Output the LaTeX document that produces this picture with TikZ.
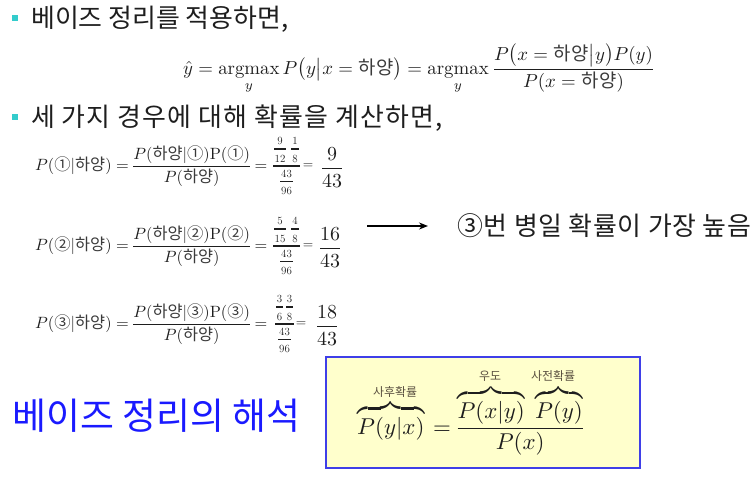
\documentclass[tikz,border=0pt]{standalone}
\usepackage{amsmath}
\usepackage{graphicx}
\usepackage{fontspec}
\usetikzlibrary{arrows.meta}
\newfontfamily\kr{Noto Sans CJK KR}
\newfontfamily\krm[LetterSpace=4]{Noto Sans CJK KR}
\newfontfamily\krtwo[LetterSpace=4.5]{Noto Sans CJK KR}
\newfontfamily\krthree[LetterSpace=2.5]{Noto Sans CJK KR}
\definecolor{bullet}{HTML}{33CCCC}
\definecolor{txt}{HTML}{1E1E1E}
\definecolor{titleblue}{HTML}{1A1AFF}
\definecolor{boxblue}{HTML}{3F3FE8}
\definecolor{boxfill}{HTML}{FFFFCC}
\definecolor{lbl}{HTML}{5A5040}
\definecolor{kmath}{HTML}{3A3A3A}
\newcommand{\hk}[1]{\text{\color{kmath}\krm #1}}
\newcommand{\hkz}[1]{\text{\color{kmath}\kr #1}}
\newcommand{\mth}[2]{\scalebox{#1}{$\displaystyle #2$}}
\newcommand{\lhs}[1]{\resizebox{232bp}{!}{\thickmuskip=2.5mu\nulldelimiterspace=0pt$\displaystyle P(\hkz{#1}|\hkz{하양})\;=\;\frac{P(\hkz{하양}|\hkz{#1})\mathrm{P}(\hkz{#1})}{P(\hkz{하양})}\;=$}}
% complex fraction drawn directly: #1 prefix, #2 x0, #3 axis, #4 W, #5 w1, #6 w2, #7 n1, #8 d1, #9 n2
\newcommand{\cfdraw}[9]{%
  \draw[cfbar] ({#2},{#3}) -- ({#2+#4},{#3});
  \draw[cfbar] ({#2+1},{#3-17}) -- ({#2+1+#5},{#3-17});
  \draw[cfbar] ({#2+#4-1-#6},{#3-17}) -- ({#2+#4-1},{#3-17});
  \node[cfd] (#1n1) at ({#2+1+#5/2},{#3-25}) {#7};
  \node[cfd] (#1d1) at ({#2+1+#5/2},{#3-7.5}) {#8};
  \node[cfd] (#1n2) at ({#2+#4-1-#6/2},{#3-25}) {#9};
  \node[cfd] (#1d2) at ({#2+#4-1-#6/2},{#3-7.5}) {8};
  \node[cfd] (#1n3) at ({#2+#4/2},{#3+7.5}) {43};
  \draw[cfbar,line width=1.4bp] ({#2+#4/2-6.5},{#3+15.5}) -- ({#2+#4/2+6.5},{#3+15.5});
  \node[cfd] (#1d3) at ({#2+#4/2},{#3+25}) {96};
}
\begin{document}
\begin{tikzpicture}[x=1bp,y=-1bp,
  bul/.style={fill=bullet,minimum size=6bp,inner sep=0pt},
  ktext/.style={anchor=west,inner sep=0pt,text=txt},
  eqn/.style={anchor=west,inner sep=0pt,text=txt},
  cfd/.style={inner sep=0pt,text=txt,font=\fontsize{11}{13}\selectfont},
  cfbar/.style={draw=txt,line width=1.1bp},
  res/.style={inner sep=0pt,text=txt},
  boxeq/.style={inner sep=0pt,text=txt,anchor=base west},
  lbltext/.style={inner sep=0pt,text=lbl,font=\kr\fontsize{12}{14}\selectfont}]
\useasboundingbox (0,0) rectangle (756,487);
% bullets and lines
\node[bul] (b1) at (15,18) {};
\node[ktext,font=\kr\fontsize{26}{30}\selectfont] (t1) at (31,19) {베이즈 정리를 적용하면,};
\node[eqn] (f1) at (183,69) {\resizebox{472bp}{!}{$\displaystyle \hat{y} = \operatorname*{argmax}_y P\bigl(y\big|x = \hk{하양}\bigr) = \operatorname*{argmax}_y \frac{P\bigl(x = \hk{하양}\big|y\bigr)P(y)}{P(x = \hk{하양})}$}};
\node[bul] (b2) at (15,117) {};
\node[ktext,font=\krtwo\fontsize{26}{30}\selectfont] (t2) at (31,118) {세 가지 경우에 대해 확률을 계산하면,};
% equation 1
\node[eqn] (e1) at (35,166) {\lhs{①}};
\cfdraw{c1}{273}{166}{27}{12}{8}{9}{12}{1}
\node[res] (q1) at (308,166) {\mth{1.35}{=}};
\node[res] (r1) at (332,167.5) {\mth{2}{\frac{9}{43}}};
% equation 2
\node[eqn] (e2) at (35,246) {\lhs{②}};
\cfdraw{c2}{273}{246}{27}{12}{8}{5}{15}{4}
\node[res] (q2) at (308,246) {\mth{1.35}{=}};
\node[res] (r2) at (330,247.5) {\mth{2}{\frac{16}{43}}};
% equation 3
\node[eqn] (e3) at (35,324) {\lhs{③}};
\cfdraw{c3}{275}{324}{19}{7}{7}{3}{6}{3}
\node[res] (q3) at (301,324) {\mth{1.35}{=}};
\node[res] (r3) at (327,325.5) {\mth{2}{\frac{18}{43}}};
% arrow and conclusion
\coordinate (a0) at (367,226);
\node[ktext,font=\krthree\fontsize{26}{30}\selectfont] (t3) at (457,226) {③번 병일 확률이 가장 높음};
\draw[-{Stealth[length=9bp,width=7bp]},line width=1.6bp] (a0) -- ([xshift=-29bp]t3.west);
% interpretation
\node[ktext,font=\kr\fontsize{37}{40}\selectfont,text=titleblue] (t4) at (12,416) {베이즈 정리의 해석};
\node[draw=boxblue,fill=boxfill,line width=1.3bp,minimum width=314bp,minimum height=111bp,inner sep=0pt] (box) at (483,412.5) {};
\node[boxeq] (f2a) at (357,434) {\mth{2.3}{\overbrace{P(y|x)}}};
\node[boxeq] (f2b) at (433,434) {\mth{2.3}{{=}\mkern3mu\frac{\overbrace{P(x|y)}\;\overbrace{P(y)}}{P(x)}}};
\node[lbltext] (l1) at (395,392) {사후확률};
\node[lbltext] (l2) at (490,376) {우도};
\node[lbltext] (l3) at (553,376) {사전확률};
\end{tikzpicture}
\end{document}
